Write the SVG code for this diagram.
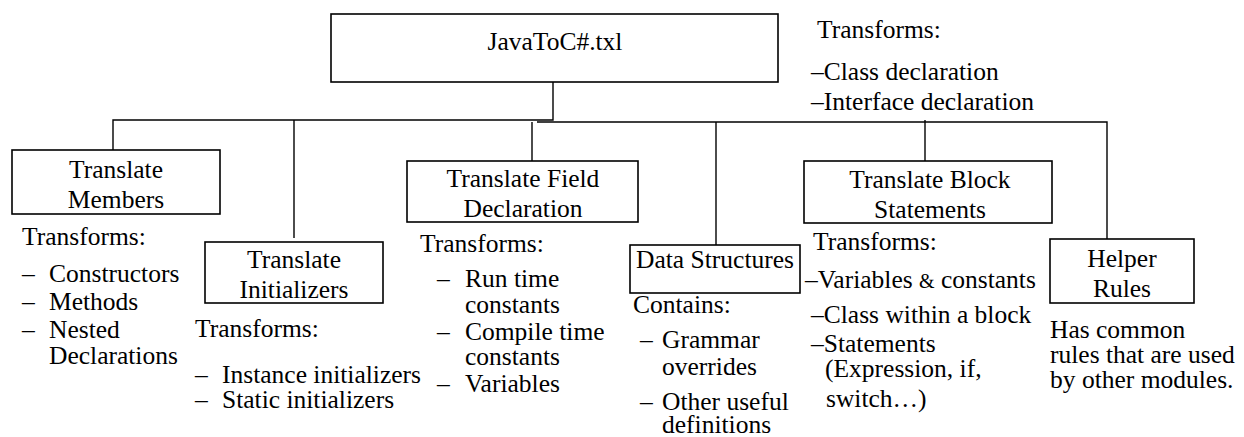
<svg xmlns="http://www.w3.org/2000/svg" width="1244" height="437" viewBox="0 0 1244 437">
<style>
text{font-family:Liberation Serif,Tinos,Times New Roman,Times,DejaVu Serif,serif;font-size:25.5px;fill:#000}
.c{text-anchor:middle}
.box{fill:#fff;stroke:#000;stroke-width:1.6}
.ln{stroke:#000;stroke-width:1.4;fill:none}
</style>
<rect width="1244" height="437" fill="#fff"/>
<g id="connectors">
<path class="ln" d="M553 82V120H113V157"/>
<path class="ln" d="M294 120V238"/>
<path class="ln" d="M537 122H1107V239"/>
<path class="ln" d="M532 122V161"/>
<path class="ln" d="M716 122V245"/>
<path class="ln" d="M925 120V161"/>
</g>
<g id="main">
<rect class="box" x="331" y="14" width="447" height="68"/>
<text class="c" x="555" y="50">JavaToC#.txl</text>
<text x="817" y="38">Transforms:</text>
<text x="811" y="80">–Class declaration</text>
<text x="811" y="110">–Interface declaration</text>
</g>
<g id="members">
<rect class="box" x="12" y="150" width="208" height="64"/>
<text class="c" x="116" y="178">Translate</text>
<text class="c" x="116" y="208">Members</text>
<text x="22" y="245">Transforms:</text>
<text x="22" y="282">–</text><text x="49" y="282">Constructors</text>
<text x="22" y="310">–</text><text x="49" y="310">Methods</text>
<text x="22" y="338">–</text><text x="49" y="338">Nested</text>
<text x="49" y="364">Declarations</text>
</g>
<g id="initializers">
<rect class="box" x="205" y="242" width="178" height="61"/>
<text class="c" x="294" y="268">Translate</text>
<text class="c" x="294" y="298">Initializers</text>
<text x="195" y="337">Transforms:</text>
<text x="195" y="383">–</text><text x="222" y="383">Instance initializers</text>
<text x="195" y="408">–</text><text x="222" y="408">Static initializers</text>
</g>
<g id="field">
<rect class="box" x="407" y="161" width="231" height="61"/>
<text class="c" x="523" y="187">Translate Field</text>
<text class="c" x="523" y="217">Declaration</text>
<text x="420" y="252">Transforms:</text>
<text x="437" y="287">–</text><text x="465" y="287">Run time</text>
<text x="465" y="313">constants</text>
<text x="437" y="340">–</text><text x="465" y="340">Compile time</text>
<text x="465" y="365">constants</text>
<text x="437" y="392">–</text><text x="465" y="392">Variables</text>
</g>
<g id="data">
<rect class="box" x="630" y="245" width="170" height="48"/>
<text class="c" x="715" y="268">Data Structures</text>
<text x="633" y="313">Contains:</text>
<text x="640" y="348">–</text><text x="662" y="348">Grammar</text>
<text x="662" y="375">overrides</text>
<text x="640" y="410">–</text><text x="662" y="410">Other useful</text>
<text x="662" y="433">definitions</text>
</g>
<g id="block">
<rect class="box" x="804" y="161" width="248" height="62"/>
<text class="c" x="930" y="188">Translate Block</text>
<text class="c" x="930" y="218">Statements</text>
<text x="813" y="250">Transforms:</text>
<text x="805" y="288">–Variables <tspan font-size="20">&amp;</tspan> constants</text>
<text x="811" y="323">–Class within a block</text>
<text x="811" y="352">–Statements</text>
<text x="825" y="377">(Expression, if,</text>
<text x="826" y="407">switch…)</text>
</g>
<g id="helper">
<rect class="box" x="1050" y="239" width="144" height="64"/>
<text class="c" x="1122" y="267">Helper</text>
<text class="c" x="1122" y="297">Rules</text>
<text x="1050" y="338">Has common</text>
<text x="1050" y="363">rules that are used</text>
<text x="1050" y="388">by other modules.</text>
</g>
</svg>
